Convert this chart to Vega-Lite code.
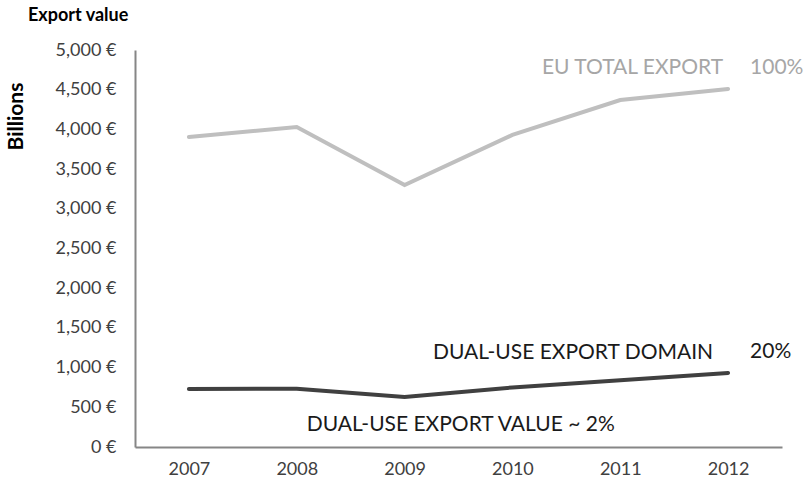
{
  "$schema": "https://vega.github.io/schema/vega-lite/v6.json",
  "width": 647,
  "height": 397,
  "autosize": "none",
  "padding": {"left": 135, "top": 50, "right": 28, "bottom": 49},
  "background": "white",
  "config": {"font": "Lato", "view": {"stroke": null}},
  "title": {"text": "Export value", "anchor": "start", "frame": "group", "dx": -107, "fontSize": 18, "fontWeight": "bold", "color": "#000000", "offset": 16, "font": "Lato"},
  "encoding": {
    "x": {"field": "year", "type": "ordinal", "scale": {"type": "point", "padding": 0.5},
      "axis": {"title": null, "labelAngle": 0, "ticks": false, "domainColor": "#868686", "domainWidth": 2, "labelFontSize": 18, "labelColor": "#404040", "labelPadding": 13, "labelFont": "Lato"}},
    "y": {"field": "value", "type": "quantitative", "scale": {"domain": [0, 5000], "nice": false},
      "axis": {"title": "Billions", "values": [0,500,1000,1500,2000,2500,3000,3500,4000,4500,5000], "labelOverlap": false, "grid": false, "ticks": false, "domainColor": "#868686", "domainWidth": 2, "labelFontSize": 18, "labelColor": "#404040", "labelPadding": 19, "labelFont": "Lato",
        "labelExpr": "format(datum.value, ',') + ' €'",
        "titleFontSize": 21, "titleFontWeight": "bold", "titleColor": "#000000", "titleX": -119, "titleY": 66, "titleAngle": -90, "titleAlign": "center", "titleBaseline": "middle", "titleFont": "Lato"}}
  },
  "layer": [
    {
      "data": {"values": [
        {"year": "2007", "value": 3904, "series": "EU total export"},
        {"year": "2008", "value": 4030, "series": "EU total export"},
        {"year": "2009", "value": 3300, "series": "EU total export"},
        {"year": "2010", "value": 3930, "series": "EU total export"},
        {"year": "2011", "value": 4370, "series": "EU total export"},
        {"year": "2012", "value": 4510, "series": "EU total export"},
        {"year": "2007", "value": 730, "series": "Dual-use export domain"},
        {"year": "2008", "value": 735, "series": "Dual-use export domain"},
        {"year": "2009", "value": 630, "series": "Dual-use export domain"},
        {"year": "2010", "value": 750, "series": "Dual-use export domain"},
        {"year": "2011", "value": 840, "series": "Dual-use export domain"},
        {"year": "2012", "value": 932, "series": "Dual-use export domain"}
      ]},
      "mark": {"type": "line", "strokeWidth": 4, "strokeCap": "round"},
      "encoding": {
        "color": {"field": "series", "type": "nominal", "scale": {"domain": ["EU total export", "Dual-use export domain"], "range": ["#bfbfbf", "#404040"]}, "legend": null}
      }
    },
    {
      "data": {"values": [
        {"year": "2012", "value": 4773, "label": "EU TOTAL EXPORT", "kind": "grey-right"},
        {"year": "2012", "value": 4773, "label": "100%", "kind": "grey-left"},
        {"year": "2012", "value": 1184, "label": "DUAL-USE EXPORT DOMAIN", "kind": "dark-right"},
        {"year": "2012", "value": 1196, "label": "20%", "kind": "dark-left"},
        {"year": "2008", "value": 277, "label": "DUAL-USE EXPORT VALUE ~ 2%", "kind": "dark-start"}
      ]},
      "layer": [
        {"transform": [{"filter": "datum.kind == 'grey-right'"}],
         "mark": {"type": "text", "align": "right", "dx": -5, "fontSize": 21, "color": "#a6a6a6", "baseline": "middle"},
         "encoding": {"text": {"field": "label"}}},
        {"transform": [{"filter": "datum.kind == 'grey-left'"}],
         "mark": {"type": "text", "align": "left", "dx": 22, "fontSize": 21, "color": "#a6a6a6", "baseline": "middle"},
         "encoding": {"text": {"field": "label"}}},
        {"transform": [{"filter": "datum.kind == 'dark-right'"}],
         "mark": {"type": "text", "align": "right", "dx": -15, "fontSize": 21, "color": "#1a1a1a", "baseline": "middle"},
         "encoding": {"text": {"field": "label"}}},
        {"transform": [{"filter": "datum.kind == 'dark-left'"}],
         "mark": {"type": "text", "align": "left", "dx": 22, "fontSize": 21, "color": "#1a1a1a", "baseline": "middle"},
         "encoding": {"text": {"field": "label"}}},
        {"transform": [{"filter": "datum.kind == 'dark-start'"}],
         "mark": {"type": "text", "align": "left", "dx": 10, "fontSize": 21, "color": "#1a1a1a", "baseline": "middle"},
         "encoding": {"text": {"field": "label"}}}
      ]
    }
  ]
}
